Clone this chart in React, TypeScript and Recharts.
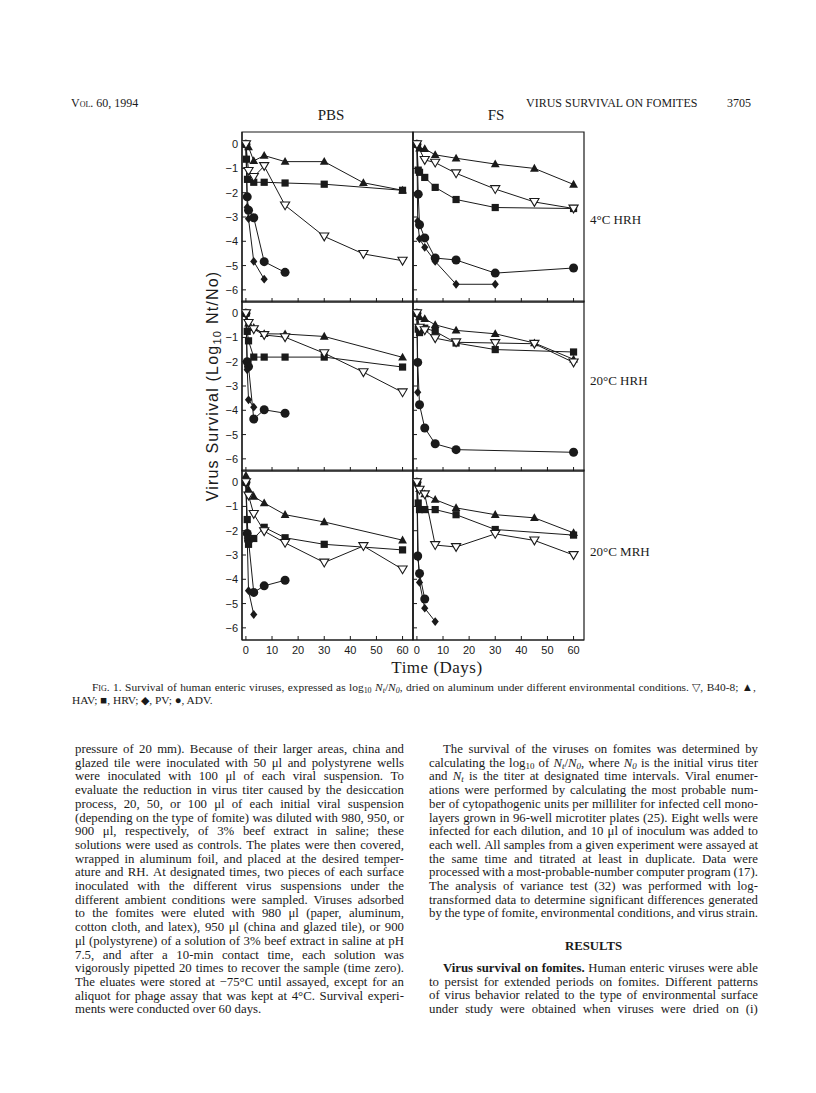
import React from 'react';
import { LineChart, Line, XAxis, YAxis, ReferenceArea } from 'recharts';

type Pt = [number, number];

// ---------- DATA (day, log10 Nt/N0) ----------
// 4°C HRH
const PBS_4HRH_B40: Pt[] = [[0, 0], [1, -1.1], [3, -1.35], [7, -0.9], [15, -2.52], [30, -3.8], [45, -4.52], [60, -4.8]];
const PBS_4HRH_HAV: Pt[] = [[0, 0], [1, -0.12], [3, -0.69], [7, -0.47], [15, -0.72], [30, -0.72], [45, -1.59], [60, -1.9]];
const PBS_4HRH_HRV: Pt[] = [[0, 0], [0.2, -0.62], [0.6, -1.45], [3, -1.57], [7, -1.57], [15, -1.6], [30, -1.65], [60, -1.9]];
const PBS_4HRH_PV: Pt[] = [[0, 0], [0.5, -2.6], [1, -3.07], [3, -4.83], [7, -5.56]];
const PBS_4HRH_ADV: Pt[] = [[0, 0], [0.5, -2.17], [1, -2.72], [3, -3.03], [7, -4.84], [15, -5.28]];

const FS_4HRH_B40: Pt[] = [[0, 0], [3, -0.65], [7, -0.76], [15, -1.2], [30, -1.85], [45, -2.38], [60, -2.65]];
const FS_4HRH_HAV: Pt[] = [[0, 0], [1, -0.17], [3, -0.19], [7, -0.44], [15, -0.58], [30, -0.82], [45, -1.0], [60, -1.66]];
const FS_4HRH_HRV: Pt[] = [[0, 0], [0.5, -1.07], [1, -1.16], [3, -1.37], [7, -1.78], [15, -2.28], [30, -2.61], [60, -2.65]];
const FS_4HRH_PV: Pt[] = [[0, 0], [0.3, -3.17], [1, -3.9], [3, -4.25], [7, -4.83], [15, -5.77], [30, -5.77]];
const FS_4HRH_ADV: Pt[] = [[0, 0], [0.5, -2.06], [1, -3.32], [3, -3.86], [7, -4.69], [15, -4.77], [30, -5.31], [60, -5.1]];

// 20°C HRH
const PBS_20HRH_B40: Pt[] = [[0, 0], [1, -0.4], [3, -0.66], [7, -0.9], [15, -0.99], [30, -1.65], [45, -2.43], [60, -3.26]];
const PBS_20HRH_HAV: Pt[] = [[0, 0], [1, -0.42], [3, -0.6], [7, -0.85], [15, -0.86], [30, -0.96], [60, -1.82]];
const PBS_20HRH_HRV: Pt[] = [[0, 0], [0.5, -0.75], [1, -1.14], [3, -1.81], [7, -1.81], [15, -1.81], [30, -1.81], [60, -2.22]];
const PBS_20HRH_PV: Pt[] = [[0, 0], [0.5, -2.33], [1, -3.57], [3, -3.87]];
const PBS_20HRH_ADV: Pt[] = [[0, 0], [0.5, -2.0], [1, -2.2], [3, -4.36], [7, -3.98], [15, -4.12]];

const FS_20HRH_B40: Pt[] = [[0, 0], [1, -0.6], [3, -0.7], [7, -1.03], [15, -1.2], [30, -1.23], [45, -1.26], [60, -2.03]];
const FS_20HRH_HAV: Pt[] = [[0, 0], [1, -0.16], [3, -0.23], [7, -0.48], [15, -0.71], [30, -0.85], [45, -1.23], [60, -1.9]];
const FS_20HRH_HRV: Pt[] = [[0, 0], [0.5, -0.66], [1, -0.8], [3, -0.62], [7, -0.75], [15, -1.23], [30, -1.5], [60, -1.6]];
const FS_20HRH_PV: Pt[] = [[0, 0], [0.3, -3.26]];
const FS_20HRH_ADV: Pt[] = [[0, 0], [0.3, -2.03], [1, -3.77], [3, -4.73], [7, -5.38], [15, -5.62], [60, -5.73]];

// 20°C MRH
const PBS_20MRH_B40: Pt[] = [[0, 0], [1, -0.55], [3, -1.31], [7, -2.02], [15, -2.5], [30, -3.31], [45, -2.63], [60, -3.59]];
const PBS_20MRH_HAV: Pt[] = [[0, 0.27], [1, -0.31], [3, -0.59], [7, -0.86], [15, -1.34], [30, -1.64], [60, -2.39]];
const PBS_20MRH_HRV: Pt[] = [[0, 0], [0.5, -1.54], [1, -2.56], [3, -2.32], [7, -1.86], [15, -2.29], [30, -2.56], [60, -2.79]];
const PBS_20MRH_PV: Pt[] = [[0, 0], [0.5, -2.3], [1, -4.47], [3, -5.45]];
const PBS_20MRH_ADV: Pt[] = [[0, 0], [0.5, -2.11], [1, -2.4], [3, -4.54], [7, -4.27], [15, -4.04]];

const FS_20MRH_B40: Pt[] = [[0, 0], [1, -0.31], [3, -0.5], [7, -2.59], [15, -2.67], [30, -2.13], [45, -2.4], [60, -3.0]];
const FS_20MRH_HAV: Pt[] = [[0, 0], [1, -0.27], [3, -0.49], [7, -0.72], [15, -1.06], [30, -1.34], [45, -1.47], [60, -2.09]];
const FS_20MRH_HRV: Pt[] = [[0, 0], [0.5, -0.86], [1, -1.13], [3, -1.13], [7, -1.13], [15, -1.34], [30, -1.95], [60, -2.18]];
const FS_20MRH_PV: Pt[] = [[0, 0], [0.5, -3.1], [1, -4.13], [3, -5.19], [7, -5.74]];
const FS_20MRH_ADV: Pt[] = [[0, 0], [0.3, -3.04], [1, -3.76], [3, -4.81]];

const X_TICKS = [0, 10, 20, 30, 40, 50, 60];
const Y_TICKS = [-6, -5, -4, -3, -2, -1, 0];
const X_DOMAIN: [number, number] = [-1.5, 64];
const Y_DOMAIN: [number, number] = [-6.5, 0.5];
const COLUMN_TITLES = ['PBS', 'FS'];
const ROW_TITLES = ['4°C HRH', '20°C HRH', '20°C MRH'];

// ---------- rendering ----------
const INK = '#1a1a1a';
const SERIF = '"Liberation Serif", "Times New Roman", serif';
const SANS = '"Liberation Sans", Arial, sans-serif';

type Shape = 'triOpen' | 'tri' | 'square' | 'diamond' | 'circle';

function Marker({ cx, cy, shape }: { cx: number; cy: number; shape: Shape }) {
  if (cx == null || cy == null || isNaN(cx) || isNaN(cy)) return null;
  switch (shape) {
    case 'triOpen':
      return <polygon points={`${cx - 4.6},${cy - 3.4} ${cx + 4.6},${cy - 3.4} ${cx},${cy + 4.4}`} fill="#fff" stroke={INK} strokeWidth={1.1} />;
    case 'tri':
      return <polygon points={`${cx},${cy - 4.6} ${cx + 4.4},${cy + 3.2} ${cx - 4.4},${cy + 3.2}`} fill={INK} />;
    case 'square':
      return <rect x={cx - 3.6} y={cy - 3.6} width={7.2} height={7.2} fill={INK} />;
    case 'diamond':
      return <polygon points={`${cx},${cy - 4.4} ${cx + 3.6},${cy} ${cx},${cy + 4.4} ${cx - 3.6},${cy}`} fill={INK} />;
    default:
      return <circle cx={cx} cy={cy} r={4.5} fill={INK} />;
  }
}

type Series = { name: string; pts: Pt[]; shape: Shape };

const rows = (pts: Pt[]) => pts.map(([t, v]) => ({ t, v }));

const yTick = (p: any) => {
  const v = p.payload.value;
  return (
    <text x={p.x} y={p.y} textAnchor="end" dominantBaseline="central" fontSize={11} fontFamily={SANS} fill={INK}>
      {v === 0 ? '0' : '\u2212' + Math.abs(v)}
    </text>
  );
};
const xTick = (p: any) => (
  <text x={p.x} y={p.y} textAnchor="middle" dy="0.71em" fontSize={11} fontFamily={SANS} fill={INK}>
    {p.payload.value}
  </text>
);
const noTick = () => <g />;

const PW = 171;
const PH = 170;
const ML = 40, MT = 6, MR = 6, MB = 30;

function Panel({ left, top, series, yLabels, xLabels }: { left: number; top: number; series: Series[]; yLabels: boolean; xLabels: boolean }) {
  return (
    <div style={{ position: 'absolute', left: left - ML, top: top - MT }}>
      <LineChart width={PW + ML + MR} height={PH + MT + MB} margin={{ top: MT, right: MR, left: 0, bottom: 0 }}>
        <XAxis type="number" dataKey="t" domain={X_DOMAIN} ticks={X_TICKS} interval={0} allowDataOverflow height={MB}
          tickSize={-4} tickMargin={10} axisLine={{ stroke: INK, strokeWidth: 1.2 }} tickLine={{ stroke: INK, strokeWidth: 1 }}
          tick={xLabels ? xTick : noTick} />
        <YAxis type="number" domain={Y_DOMAIN} ticks={Y_TICKS} interval={0} allowDataOverflow width={ML}
          tickSize={-4} tickMargin={8} axisLine={{ stroke: INK, strokeWidth: 1.2 }} tickLine={{ stroke: INK, strokeWidth: 1 }}
          tick={yLabels ? yTick : noTick} />
        <ReferenceArea x1={X_DOMAIN[0]} x2={X_DOMAIN[1]} y1={Y_DOMAIN[0]} y2={Y_DOMAIN[1]} fill="none" fillOpacity={0} stroke={INK} strokeWidth={1.2} />
        {series.map((s) => (
          <Line key={s.name} data={rows(s.pts)} dataKey="v" type="linear" stroke={INK} strokeWidth={1}
            isAnimationActive={false} activeDot={false}
            dot={(p: any) => <Marker key={`${s.name}-${p.index}`} cx={p.cx} cy={p.cy} shape={s.shape} />} />
        ))}
      </LineChart>
    </div>
  );
}

const mk = (b40: Pt[], hav: Pt[], hrv: Pt[], pv: Pt[], adv: Pt[]): Series[] => [
  { name: 'ADV', pts: adv, shape: 'circle' },
  { name: 'PV', pts: pv, shape: 'diamond' },
  { name: 'HRV', pts: hrv, shape: 'square' },
  { name: 'HAV', pts: hav, shape: 'tri' },
  { name: 'B40-8', pts: b40, shape: 'triOpen' },
];

const PANELS = [
  [mk(PBS_4HRH_B40, PBS_4HRH_HAV, PBS_4HRH_HRV, PBS_4HRH_PV, PBS_4HRH_ADV), mk(FS_4HRH_B40, FS_4HRH_HAV, FS_4HRH_HRV, FS_4HRH_PV, FS_4HRH_ADV)],
  [mk(PBS_20HRH_B40, PBS_20HRH_HAV, PBS_20HRH_HRV, PBS_20HRH_PV, PBS_20HRH_ADV), mk(FS_20HRH_B40, FS_20HRH_HAV, FS_20HRH_HRV, FS_20HRH_PV, FS_20HRH_ADV)],
  [mk(PBS_20MRH_B40, PBS_20MRH_HAV, PBS_20MRH_HRV, PBS_20MRH_PV, PBS_20MRH_ADV), mk(FS_20MRH_B40, FS_20MRH_HAV, FS_20MRH_HRV, FS_20MRH_PV, FS_20MRH_ADV)],
];

const COL_LEFT = [242, 413];
const ROW_TOP = [132, 301, 470];

// ---------- text ----------
const LH = 13.7;
const BODY_FS = 12.8;

type Word = React.ReactNode;
const sub = (s: string) => <sub style={{ fontSize: '0.7em', lineHeight: 0, verticalAlign: '-0.25em' }}>{s}</sub>;

function TLine({ words, justify = true, indent = 0, top, left, width }: { words: Word[]; justify?: boolean; indent?: number; top: number; left: number; width: number }) {
  const base: React.CSSProperties = { position: 'absolute', top, left: left + indent, width: width - indent, height: LH, lineHeight: `${LH}px`, whiteSpace: 'nowrap' };
  if (!justify) {
    return <div style={base}>{words.map((w, i) => <React.Fragment key={i}>{i > 0 ? ' ' : ''}{w}</React.Fragment>)}</div>;
  }
  return (
    <div style={{ ...base, display: 'flex', justifyContent: 'space-between' }}>
      {words.map((w, i) => <span key={i}>{w}</span>)}
    </div>
  );
}

const LEFT_TEXT = [
  'pressure of 20 mm). Because of their larger areas, china and',
  'glazed tile were inoculated with 50 μl and polystyrene wells',
  'were inoculated with 100 μl of each viral suspension. To',
  'evaluate the reduction in virus titer caused by the desiccation',
  'process, 20, 50, or 100 μl of each initial viral suspension',
  '(depending on the type of fomite) was diluted with 980, 950, or',
  '900 μl, respectively, of 3% beef extract in saline; these',
  'solutions were used as controls. The plates were then covered,',
  'wrapped in aluminum foil, and placed at the desired temper-',
  'ature and RH. At designated times, two pieces of each surface',
  'inoculated with the different virus suspensions under the',
  'different ambient conditions were sampled. Viruses adsorbed',
  'to the fomites were eluted with 980 μl (paper, aluminum,',
  'cotton cloth, and latex), 950 μl (china and glazed tile), or 900',
  'μl (polystyrene) of a solution of 3% beef extract in saline at pH',
  '7.5, and after a 10-min contact time, each solution was',
  'vigorously pipetted 20 times to recover the sample (time zero).',
  'The eluates were stored at −75°C until assayed, except for an',
  'aliquot for phage assay that was kept at 4°C. Survival experi-',
  'ments were conducted over 60 days.',
];

const w = (s: string): Word[] => s.split(' ');
const Nt = <i>N{sub('t')}</i>;
const N0 = <i>N{sub('0')}</i>;

const RIGHT_TEXT_A: Word[][] = [
  w('The survival of the viruses on fomites was determined by'),
  ['calculating', 'the', <>log{sub('10')}</>, 'of', <>{Nt}/{N0},</>, 'where', N0, 'is', 'the', 'initial', 'virus', 'titer'],
  ['and', Nt, ...w('is the titer at designated time intervals. Viral enumer-')],
  w('ations were performed by calculating the most probable num-'),
  w('ber of cytopathogenic units per milliliter for infected cell mono-'),
  w('layers grown in 96-well microtiter plates (25). Eight wells were'),
  w('infected for each dilution, and 10 μl of inoculum was added to'),
  w('each well. All samples from a given experiment were assayed at'),
  w('the same time and titrated at least in duplicate. Data were'),
  w('processed with a most-probable-number computer program (17).'),
  w('The analysis of variance test (32) was performed with log-'),
  w('transformed data to determine significant differences generated'),
  w('by the type of fomite, environmental conditions, and virus strain.'),
];
const RIGHT_TEXT_B: Word[][] = [
  [<b>Virus</b>, <b>survival</b>, <b>on</b>, <b>fomites.</b>, ...w('Human enteric viruses were able')],
  w('to persist for extended periods on fomites. Different patterns'),
  w('of virus behavior related to the type of environmental surface'),
  w('under study were obtained when viruses were dried on (i)'),
];

const CAPTION_1: Word[] = [
  <span style={{ fontVariant: 'small-caps' }}>Fig.</span>, '1.', ...w('Survival of human enteric viruses, expressed as'),
  <>log{sub('10')}</>, <>{Nt}/{N0},</>, ...w('dried on aluminum under different environmental conditions.'),
  '▽,', 'B40-8;', '▲,',
];
const CAPTION_2 = 'HAV; ■, HRV; ◆, PV; ●, ADV.';

const LCOL = 75, RCOL = 429, COLW = 329, TEXT_TOP = 743;

export default function App() {
  return (
    <div style={{ position: 'absolute', left: 0, top: 0, width: 816, height: 1093, background: '#fff', color: INK, fontFamily: SERIF, overflow: 'hidden' }}>
      {/* running header */}
      <div style={{ position: 'absolute', left: 71, top: 96, fontSize: 12, fontVariant: 'small-caps' }}>Vol. 60, 1994</div>
      <div style={{ position: 'absolute', left: 526, top: 96, fontSize: 12 }}>VIRUS SURVIVAL ON FOMITES</div>
      <div style={{ position: 'absolute', left: 727, top: 96, fontSize: 12 }}>3705</div>

      {/* column titles */}
      {COLUMN_TITLES.map((t, i) => (
        <div key={t} style={{ position: 'absolute', left: [331, 496][i], top: 115, transform: 'translate(-50%,-50%)', fontSize: 15 }}>{t}</div>
      ))}

      {/* panels */}
      {PANELS.map((row, r) => row.map((series, c) => (
        <Panel key={`${r}-${c}`} left={COL_LEFT[c]} top={ROW_TOP[r]} series={series} yLabels={c === 0} xLabels={r === 2} />
      )))}

      {/* row titles */}
      {ROW_TITLES.map((t, i) => (
        <div key={t} style={{ position: 'absolute', left: 590, top: [220, 381, 552][i], transform: 'translateY(-50%)', fontSize: 13, whiteSpace: 'nowrap' }}>{t}</div>
      ))}

      {/* axis titles */}
      <div style={{ position: 'absolute', left: 213, top: 386, transform: 'translate(-50%,-50%) rotate(-90deg)', fontFamily: SANS, fontSize: 16, letterSpacing: 1.2, whiteSpace: 'nowrap' }}>
        Virus Survival (Log{sub('10')} Nt/No)
      </div>
      <div style={{ position: 'absolute', left: 437, top: 668, transform: 'translate(-50%,-50%)', fontSize: 17, letterSpacing: 0.5, whiteSpace: 'nowrap' }}>Time (Days)</div>

      {/* caption */}
      <div style={{ fontSize: 11.4 }}>
        <div style={{ position: 'absolute', top: 681, left: 92, width: 664, height: 12, lineHeight: '12px', display: 'flex', justifyContent: 'space-between', whiteSpace: 'nowrap' }}>
          {CAPTION_1.map((x, i) => <span key={i}>{x}</span>)}
        </div>
        <div style={{ position: 'absolute', top: 694, left: 72, height: 12, lineHeight: '12px', whiteSpace: 'nowrap' }}>{CAPTION_2}</div>
      </div>

      {/* body text */}
      <div style={{ fontSize: BODY_FS }}>
        {LEFT_TEXT.map((s, i) => (
          <TLine key={`l${i}`} words={w(s)} justify={i < LEFT_TEXT.length - 1} top={TEXT_TOP + i * LH} left={LCOL} width={COLW} />
        ))}
        {RIGHT_TEXT_A.map((ws, i) => (
          <TLine key={`r${i}`} words={ws} indent={i === 0 ? 14 : 0} top={TEXT_TOP + i * LH} left={RCOL} width={COLW} />
        ))}
        <div style={{ position: 'absolute', left: RCOL, width: COLW, top: 940, height: LH, lineHeight: `${LH}px`, textAlign: 'center', fontWeight: 'bold' }}>RESULTS</div>
        {RIGHT_TEXT_B.map((ws, i) => (
          <TLine key={`rb${i}`} words={ws} indent={i === 0 ? 14 : 0} top={962 + i * LH} left={RCOL} width={COLW} />
        ))}
      </div>
    </div>
  );
}
